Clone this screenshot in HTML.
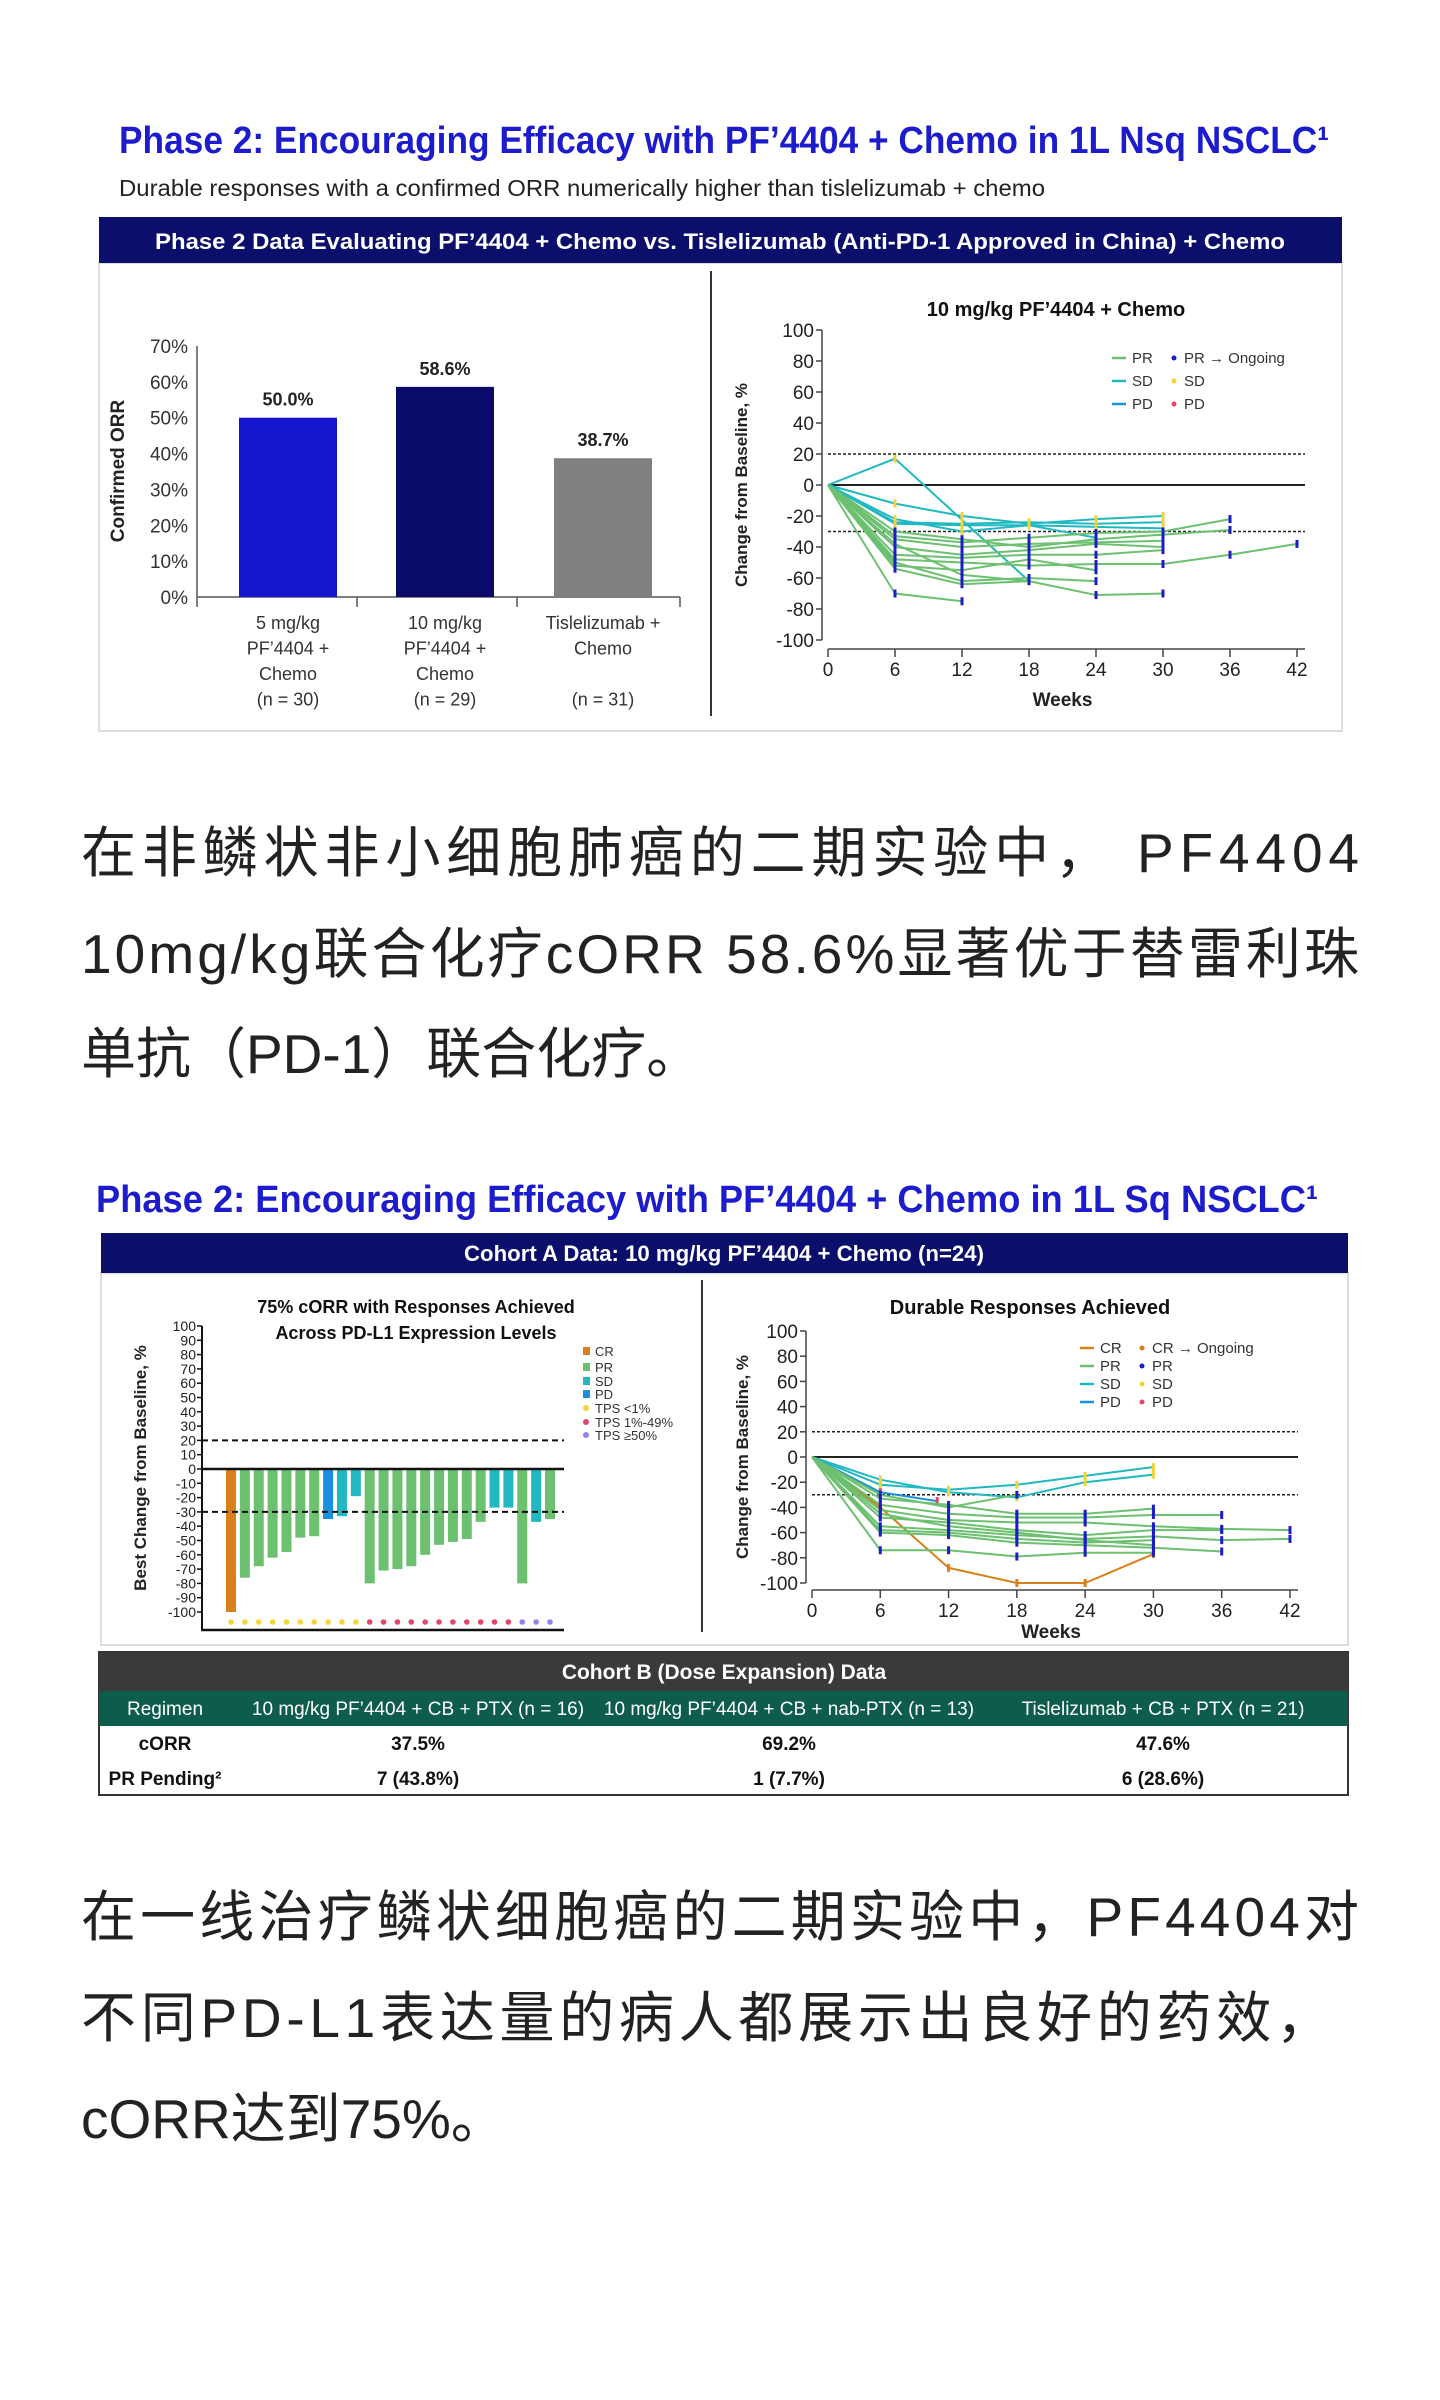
<!DOCTYPE html>
<html><head><meta charset="utf-8">
<style>
html,body{margin:0;padding:0;background:#fff;}
svg{display:block;font-family:"Liberation Sans","Noto Sans CJK SC",sans-serif;}
</style></head>
<body>
<svg id="page" width="1440" height="2400" viewBox="0 0 1440 2400" xmlns="http://www.w3.org/2000/svg">
<!-- Section 1 -->
<text x="119" y="153" font-size="38" font-weight="bold" fill="#1c1ccc" textLength="1210" lengthAdjust="spacingAndGlyphs">Phase 2: Encouraging Efficacy with PF’4404 + Chemo in 1L Nsq NSCLC¹</text>
<text x="119" y="196" font-size="23" fill="#222" textLength="926" lengthAdjust="spacingAndGlyphs">Durable responses with a confirmed ORR numerically higher than tislelizumab + chemo</text>
<rect x="99" y="263" width="1243" height="468" fill="#fff" stroke="#ddd" stroke-width="2"/>
<rect x="99" y="217" width="1243" height="46" fill="#0b0f6b"/>
<text x="720" y="249" font-size="22" font-weight="bold" fill="#fff" text-anchor="middle" textLength="1130" lengthAdjust="spacingAndGlyphs">Phase 2 Data Evaluating PF’4404 + Chemo vs. Tislelizumab (Anti-PD-1 Approved in China) + Chemo</text>
<line x1="711" y1="271" x2="711" y2="716" stroke="#333" stroke-width="2"/>
<g id="barChart"></g>
<g id="spider1"></g>

<g font-size="55" fill="#222">
<text x="81" y="872" textLength="1278" lengthAdjust="spacing">在非鳞状非小细胞肺癌的二期实验中， PF4404</text>
<text x="81" y="973" textLength="1278" lengthAdjust="spacing">10mg/kg联合化疗cORR 58.6%显著优于替雷利珠</text>
<text x="81" y="1073">单抗（PD-1）联合化疗。</text>
</g>

<!-- Section 2 -->
<text x="96" y="1212" font-size="38" font-weight="bold" fill="#1c1ccc" textLength="1222" lengthAdjust="spacingAndGlyphs">Phase 2: Encouraging Efficacy with PF’4404 + Chemo in 1L Sq NSCLC¹</text>
<rect x="101" y="1273" width="1247" height="372" fill="#fff" stroke="#ddd" stroke-width="2"/>
<rect x="101" y="1233" width="1247" height="40" fill="#0b0f6b"/>
<text x="724" y="1261" font-size="22" font-weight="bold" fill="#fff" text-anchor="middle" textLength="520" lengthAdjust="spacingAndGlyphs">Cohort A Data: 10 mg/kg PF’4404 + Chemo (n=24)</text>
<line x1="702" y1="1280" x2="702" y2="1632" stroke="#333" stroke-width="2"/>
<g id="waterfall"></g>
<g id="spider2"></g>

<g>
<rect x="99" y="1652" width="1249" height="143" fill="#fff" stroke="#333" stroke-width="2"/>
<rect x="99" y="1652" width="1249" height="39" fill="#3a3a3a"/>
<text x="724" y="1679" font-size="21" font-weight="bold" fill="#fff" text-anchor="middle">Cohort B (Dose Expansion) Data</text>
<rect x="99" y="1691" width="1249" height="35" fill="#0d5c4c"/>
<g font-size="19" fill="#fff" text-anchor="middle">
<text x="165" y="1715">Regimen</text>
<text x="418" y="1715">10 mg/kg PF’4404 + CB + PTX (n = 16)</text>
<text x="789" y="1715">10 mg/kg PF’4404 + CB + nab-PTX (n = 13)</text>
<text x="1163" y="1715">Tislelizumab + CB + PTX (n = 21)</text>
</g>
<g font-size="19" fill="#111" text-anchor="middle" font-weight="bold">
<text x="165" y="1750">cORR</text>
<text x="418" y="1750">37.5%</text>
<text x="789" y="1750">69.2%</text>
<text x="1163" y="1750">47.6%</text>
<text x="165" y="1785">PR Pending²</text>
<text x="418" y="1785">7 (43.8%)</text>
<text x="789" y="1785">1 (7.7%)</text>
<text x="1163" y="1785">6 (28.6%)</text>
</g>
</g>

<g font-size="55" fill="#222">
<text x="81" y="1936" textLength="1278" lengthAdjust="spacing">在一线治疗鳞状细胞癌的二期实验中，PF4404对</text>
<text x="81" y="2037" textLength="1250" lengthAdjust="spacing">不同PD-L1表达量的病人都展示出良好的药效，</text>
<text x="81" y="2138">cORR达到75%。</text>
</g>
</svg>
<script>
const NS="http://www.w3.org/2000/svg";
function mk(parent,tag,attrs,text){const e=document.createElementNS(NS,tag);for(const k in attrs)e.setAttribute(k,attrs[k]);if(text!==undefined)e.textContent=text;parent.appendChild(e);return e;}

/* ---------- Bar chart data ---------- */
const barCategories=["5 mg/kg PF'4404 + Chemo","10 mg/kg PF'4404 + Chemo","Tislelizumab + Chemo"];
const barValues=[50.0,58.6,38.7];
const barLabels=["50.0%","58.6%","38.7%"];
const barTicks=[0,10,20,30,40,50,60,70];
const barCatLines=[["5 mg/kg","PF’4404 +","Chemo","(n = 30)"],["10 mg/kg","PF’4404 +","Chemo","(n = 29)"],["Tislelizumab +","Chemo","","(n = 31)"]];

/* ---------- Waterfall data ---------- */
const wfValues=[-100,-76,-68,-62,-58,-48,-47,-35,-33,-19,-80,-71,-70,-68,-60,-53,-51,-49,-37,-27,-27,-80,-37,-35];
const wfResponse=["CR","PR","PR","PR","PR","PR","PR","PD","SD","SD","PR","PR","PR","PR","PR","PR","PR","PR","PR","SD","SD","PR","SD","PR"];
const wfTPS=["lt1","lt1","lt1","lt1","lt1","lt1","lt1","lt1","lt1","lt1","mid","mid","mid","mid","mid","mid","mid","mid","mid","mid","mid","hi","hi","hi"];
const wfTicks=[100,90,80,70,60,50,40,30,20,10,0,-10,-20,-30,-40,-50,-60,-70,-80,-90,-100];

/* ---------- Spider 1 data ---------- */
const sp1Weeks=[0,6,12,18,24,30,36,42];
const sp1Ticks=[100,80,60,40,20,0,-20,-40,-60,-80,-100];
const sp1Types=["SD","SD","SD","SD","SD","PR","PR","PR","PR","PR","PR","PR","PR","PR","PR","PR"];
const sp1X=[[0,6,18],[0,6,12,18,24,30],[0,6,12,18,24,30],[0,6,12,18,24,30],[0,6,12,18,24],[0,6,12,18,24,30,36],[0,6,12,18,24,30],[0,6,12,18,24,30],[0,6,12,18,24,30],[0,6,12,18,24,30,36,42],[0,6,12,18,24],[0,6,12,18,24],[0,6,12,18],[0,6,12,18,24,30],[0,6,12],[0,6,12,18,24,30,36]];
const sp1Y=[[0,17,-62],[0,-12,-20,-25,-22,-20],[0,-24,-25,-24,-25,-24],[0,-25,-26,-26,-27,-28],[0,-22,-30,-26,-34],[0,-33,-37,-34,-31,-30,-22],[0,-35,-40,-38,-37,-36],[0,-40,-45,-42,-38,-40],[0,-45,-47,-45,-45,-42],[0,-48,-50,-52,-51,-51,-45,-38],[0,-52,-55,-48,-55],[0,-50,-62,-60,-62],[0,-54,-64,-62],[0,-38,-58,-62,-71,-70],[0,-70,-75],[0,-30,-35,-40,-35,-32,-29]];

/* ---------- Spider 2 data ---------- */
const sp2Weeks=[0,6,12,18,24,30,36,42];
const sp2Ticks=[100,80,60,40,20,0,-20,-40,-60,-80,-100];
const sp2Types=["SD","SD","PD","CR","PR","PR","PR","PR","PR","PR","PR","PR","PR","PR"];
const sp2X=[[0,6,12,18,24,30],[0,6,12,18,24,30],[0,6,11],[0,6,12,18,24,30],[0,6,12,18,24,30],[0,6,12,18,24,30,36],[0,6,12,18,24,30,36,42],[0,6,12,18,24,30,36],[0,6,12,18,24,30,36,42],[0,6,12,18,24,30],[0,6,12,18,24,30,36],[0,6,12,18,24,30],[0,6,12,18,24,30],[0,6,12,18]];
const sp2Y=[[0,-18,-28,-32,-20,-14],[0,-22,-26,-22,-15,-8],[0,-28,-35],[0,-40,-88,-100,-100,-77],[0,-33,-38,-45,-45,-41],[0,-38,-45,-48,-48,-46,-46],[0,-42,-50,-52,-52,-55,-57,-58],[0,-48,-52,-58,-62,-58,-58],[0,-55,-58,-62,-65,-63,-66,-65],[0,-58,-60,-65,-68,-66],[0,-60,-62,-68,-70,-72,-75],[0,-74,-74,-79,-76,-76],[0,-45,-55,-60,-66,-70],[0,-30,-40,-30]];

const colors={CR:"#d9801a",PR:"#6cc070",SD:"#22b8c2",PD:"#1a8fe0"};
const tpsColors={lt1:"#f5d63a",mid:"#e0476b",hi:"#9b7ff0"};

/* ---------- Draw bar chart ---------- */
(function(){
 const g=document.getElementById('barChart');
 const y=v=>597-v*(597-346)/70;
 const cx=[288,445,603], bw=98, fills=["#1515d0","#0a0a6a","#808080"];
 barTicks.forEach(t=>{const e=mk(g,'text',{x:188,y:y(t)+7,'font-size':19,fill:'#333','text-anchor':'end'},t+'%');
  
  });
 const yt=mk(g,'text',{x:0,y:0,'font-size':19,'font-weight':'bold',fill:'#222','text-anchor':'middle',transform:'translate(124,471) rotate(-90)'},'Confirmed ORR');
 
 
 mk(g,'line',{x1:197,y1:346,x2:197,y2:597,stroke:'#555','stroke-width':1.5});
 mk(g,'line',{x1:197,y1:597,x2:680,y2:597,stroke:'#555','stroke-width':1.5});
 [197,357,517,680].forEach(x=>mk(g,'line',{x1:x,y1:597,x2:x,y2:607,stroke:'#555','stroke-width':1.5}));
 barValues.forEach((v,i)=>{
  const r=mk(g,'rect',{x:cx[i]-bw/2,y:y(v),width:bw,height:597-y(v),fill:fills[i]});
  
  
  const l=mk(g,'text',{x:cx[i],y:y(v)-12,'font-size':18,'font-weight':'bold',fill:'#222','text-anchor':'middle'},barLabels[i]);
  
  
  barCatLines[i].forEach((s,j)=>{const c=mk(g,'text',{x:cx[i],y:629+j*25.5,'font-size':18,fill:'#333','text-anchor':'middle'},s);
   
   });
 });
})();

/* ---------- Spider plot generic ---------- */
function spider(gid,opts,weeks,ticks,types,X,Y){
 const g=document.getElementById(gid);
 const xs=w=>opts.x0+w*(opts.x1-opts.x0)/42;
 const ys=v=>opts.y0-v*(opts.y0-opts.yTop)/100;
 const t=mk(g,'text',{x:opts.tx,y:opts.ty,'font-size':20,'font-weight':'bold',fill:'#111','text-anchor':'middle'},opts.title);
 
 
 mk(g,'line',{x1:opts.x0-6,y1:ys(100),x2:opts.x0-6,y2:ys(-100),stroke:'#444','stroke-width':1.5});
 ticks.forEach(v=>{mk(g,'line',{x1:opts.x0-12,y1:ys(v),x2:opts.x0-6,y2:ys(v),stroke:'#444','stroke-width':1.5});
  const e=mk(g,'text',{x:opts.x0-14,y:ys(v)+7,'font-size':19,fill:'#222','text-anchor':'end'},v);
  
  });
 mk(g,'line',{x1:opts.x0,y1:opts.axY,x2:opts.x1+8,y2:opts.axY,stroke:'#444','stroke-width':1.5});
 weeks.forEach(w=>{mk(g,'line',{x1:xs(w),y1:opts.axY,x2:xs(w),y2:opts.axY+8,stroke:'#444','stroke-width':1.5});
  const e=mk(g,'text',{x:xs(w),y:opts.axY+27,'font-size':19,fill:'#222','text-anchor':'middle'},w);
  
  });
 const wt=mk(g,'text',{x:(opts.x0+opts.x1)/2,y:opts.wy,'font-size':19,'font-weight':'bold',fill:'#222','text-anchor':'middle'},'Weeks');
 
 
 const yt=mk(g,'text',{x:0,y:0,'font-size':17,'font-weight':'bold',fill:'#222','text-anchor':'middle',transform:`translate(${opts.ytx},${(ys(100)+ys(-100))/2}) rotate(-90)`},'Change from Baseline, %');
 
 
 mk(g,'line',{x1:opts.x0,y1:ys(0),x2:opts.x1+8,y2:ys(0),stroke:'#222','stroke-width':2});
 [20,-30].forEach(v=>mk(g,'line',{x1:opts.x0,y1:ys(v),x2:opts.x1+8,y2:ys(v),stroke:'#222','stroke-width':1.5,'stroke-dasharray':'3,2'}));
 X.forEach((xr,i)=>{
  const pts=xr.map((w,j)=>xs(w)+','+ys(Y[i][j])).join(' ');
  const p=mk(g,'polyline',{points:pts,fill:'none',stroke:colors[types[i]],'stroke-width':2});
  
  
  xr.forEach((w,j)=>{if(j===0)return;
   const c=types[i]==='PR'?'#1b1bc8':(types[i]==='SD'?'#f0d43a':(types[i]==='CR'?'#d9801a':'#e0476b'));
   mk(g,'rect',{x:xs(w)-1.5,y:ys(Y[i][j])-4,width:3,height:8,fill:c});});
 });
 // legend
 opts.legend.forEach((it,k)=>{
  const ly=opts.ly+k*opts.ldy;
  mk(g,'line',{x1:opts.lx,y1:ly-5,x2:opts.lx+14,y2:ly-5,stroke:colors[it],'stroke-width':2.5});
  const a=mk(g,'text',{x:opts.lx+20,y:ly,'font-size':15,fill:'#333'},it);
  
  
  const dc=it==='PR'?'#1b1bc8':(it==='SD'?'#f0d43a':(it==='CR'?'#d9801a':'#e0476b'));
  mk(g,'circle',{cx:opts.lx+62,cy:ly-5,r:2.5,fill:dc});
  const b=mk(g,'text',{x:opts.lx+72,y:ly,'font-size':15,fill:'#333'},it+(k===0?'  → Ongoing':''));
  
  
 });
}
spider('spider1',{x0:828,x1:1297,y0:485,yTop:330,axY:649,tx:1056,ty:316,wy:706,ytx:747,title:'10 mg/kg PF’4404 + Chemo',legend:['PR','SD','PD'],lx:1112,ly:363,ldy:23},sp1Weeks,sp1Ticks,sp1Types,sp1X,sp1Y);
spider('spider2',{x0:812,x1:1290,y0:1457,yTop:1331,axY:1590,tx:1030,ty:1314,wy:1638,ytx:748,title:'Durable Responses Achieved',legend:['CR','PR','SD','PD'],lx:1080,ly:1353,ldy:18},sp2Weeks,sp2Ticks,sp2Types,sp2X,sp2Y);

/* ---------- Waterfall ---------- */
(function(){
 const g=document.getElementById('waterfall');
 const y=v=>1469-v*(1469-1326)/100;
 const x=i=>231+i*(550-231)/23;
 [['75% cORR with Responses Achieved',1313],['Across PD-L1 Expression Levels',1339]].forEach(s=>{const t=mk(g,'text',{x:416,y:s[1],'font-size':18,'font-weight':'bold',fill:'#111','text-anchor':'middle'},s[0]);
  
  });
 mk(g,'line',{x1:202,y1:1326,x2:202,y2:1630,stroke:'#111','stroke-width':2});
 mk(g,'line',{x1:201,y1:1630,x2:564,y2:1630,stroke:'#111','stroke-width':2.5});
 wfTicks.forEach(v=>{mk(g,'line',{x1:197,y1:y(v),x2:202,y2:y(v),stroke:'#111','stroke-width':1.5});
  const e=mk(g,'text',{x:196,y:y(v)+5,'font-size':14,fill:'#222','text-anchor':'end'},v);
  
  });
 const yt=mk(g,'text',{x:0,y:0,'font-size':17,'font-weight':'bold',fill:'#222','text-anchor':'middle',transform:'translate(146,1468) rotate(-90)'},'Best Change from Baseline, %');
 
 
 wfValues.forEach((v,i)=>{
  const r=mk(g,'rect',{x:x(i)-5,y:y(0),width:10,height:y(v)-y(0),fill:colors[wfResponse[i]]});
  
  
  mk(g,'circle',{cx:x(i),cy:1622,r:2.8,fill:tpsColors[wfTPS[i]]});
 });
 mk(g,'line',{x1:202,y1:y(0),x2:564,y2:y(0),stroke:'#111','stroke-width':2.5});
 [20,-30].forEach(v=>mk(g,'line',{x1:202,y1:y(v),x2:564,y2:y(v),stroke:'#111','stroke-width':2,'stroke-dasharray':'6,4'}));
 const leg=[['CR','rect',colors.CR],['PR','rect',colors.PR],['SD','rect',colors.SD],['PD','rect',colors.PD],['TPS <1%','c',tpsColors.lt1],['TPS 1%-49%','c',tpsColors.mid],['TPS ≥50%','c',tpsColors.hi]];
 const ly=[1356,1372,1386,1399,1413,1427,1440];
 leg.forEach((l,k)=>{
  if(l[1]==='rect')mk(g,'rect',{x:583,y:ly[k]-9,width:7,height:8,fill:l[2]});else mk(g,'circle',{cx:586,cy:ly[k]-5,r:3,fill:l[2]});
  const t=mk(g,'text',{x:595,y:ly[k],'font-size':13,fill:'#333'},l[0]);
  
  
 });
})();
</script>
</body></html>
